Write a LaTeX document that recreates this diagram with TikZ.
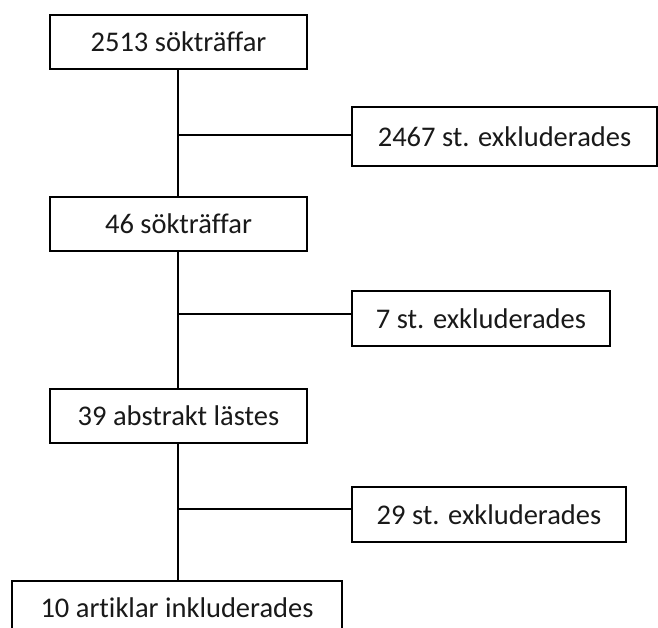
\documentclass[tikz,border=0pt]{standalone}
\usepackage{fontspec}
\setmainfont[Ligatures=NoCommon]{Carlito}
\begin{document}
\begin{tikzpicture}[x=1pt,y=-1pt,
  box/.style={draw=black,line width=1.3pt,fill=white,inner sep=0pt,
    minimum height=54pt,font=\fontsize{28.5}{34}\selectfont,text=black!90},
  conn/.style={draw=black,line width=1.3pt}]
\useasboundingbox (0,0) rectangle (658,628);
\clip (0,0) rectangle (658,628);
\node[box,minimum width=257pt] (b1) at (178.5,42) {2513 sökträffar};
\node[box,minimum width=257pt] (b2) at (178.5,224) {46 sökträffar};
\node[box,minimum width=257pt] (b3) at (178.5,416) {39 abstrakt lästes};
\node[box,minimum width=330pt] (b4) at (177,608) {10 artiklar inkluderades};
\node[box,minimum width=305pt,minimum height=59pt] (e1) at (504.5,136.5) {2467 st. exkluderades};
\node[box,minimum width=258pt,minimum height=55pt] (e2) at (481,318.5) {7 st. exkluderades};
\node[box,minimum width=274pt,minimum height=55pt] (e3) at (489,514.5) {29 st. exkluderades};
\coordinate (j1) at (178,135);
\coordinate (j2) at (178,314);
\coordinate (j3) at (178,509);
\draw[conn] (b1.south -| j1) -- (b2.north -| j1);
\draw[conn] (b2.south -| j1) -- (b3.north -| j1);
\draw[conn] (b3.south -| j1) -- (b4.north -| j1);
\draw[conn] (j1) -- (j1 -| e1.west);
\draw[conn] (j2) -- (j2 -| e2.west);
\draw[conn] (j3) -- (j3 -| e3.west);
\end{tikzpicture}
\end{document}
